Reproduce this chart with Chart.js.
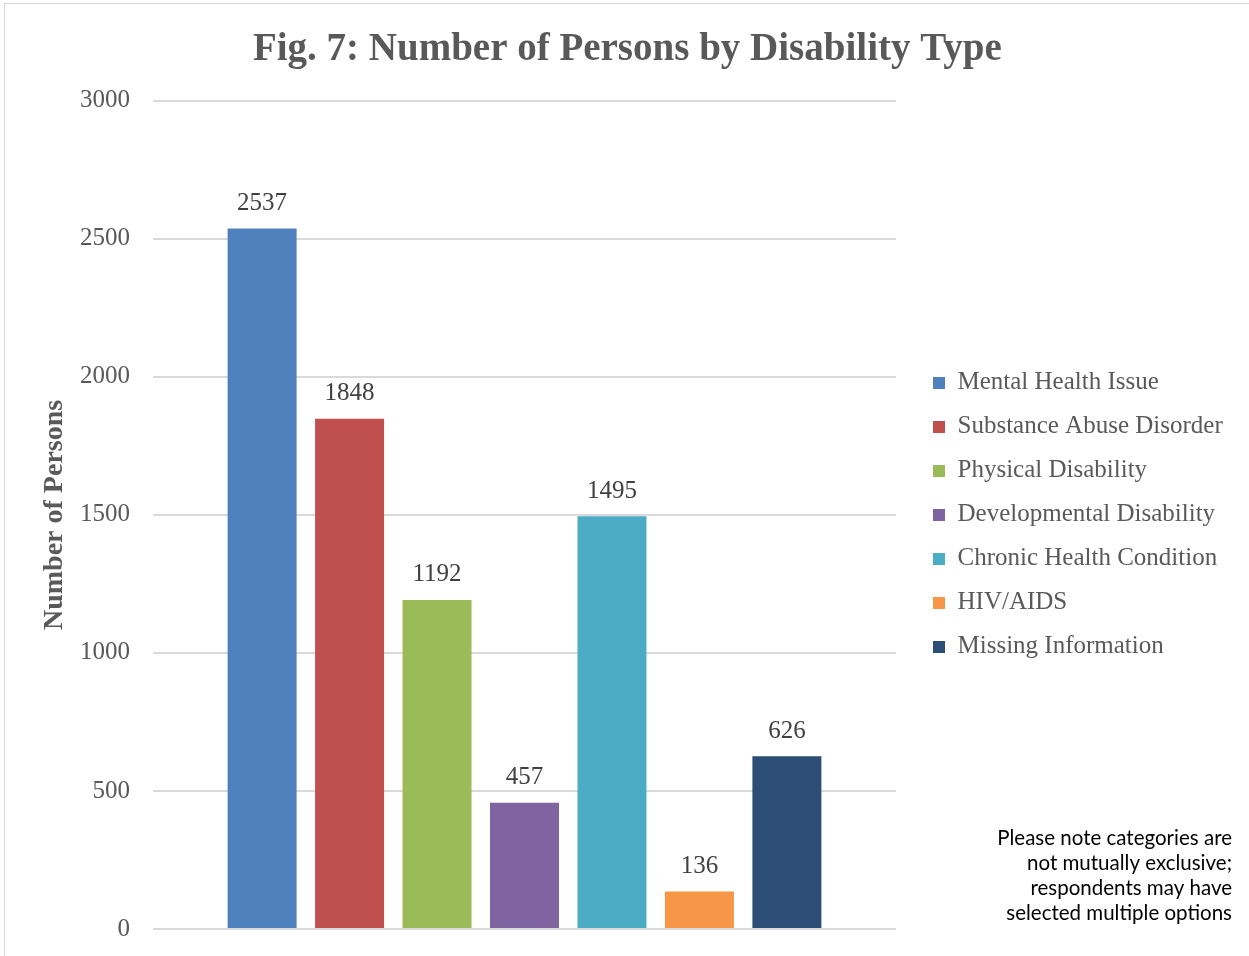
<!DOCTYPE html>
<html>
<head>
<meta charset="utf-8">
<title>Fig. 7: Number of Persons by Disability Type</title>
<script src="https://cdn.jsdelivr.net/npm/chart.js@4.4.1/dist/chart.umd.min.js"></script>
<style>
    html, body { margin: 0; padding: 0; background: #fff; overflow: hidden; }
    #frame {
        position: absolute; left: 4px; top: 3px;
        width: 1400px; height: 1100px;
        border: 1.5px solid #d9d9d9;
    }
    #wrap { position: absolute; left: 0; top: 0; width: 1249px; height: 956px; }
</style>
</head>
<body>
<div id="frame"></div>
<div id="wrap"><canvas id="disabilityChart" width="1249" height="956"></canvas></div>

<script>
// ================= DATA =================
const categories = [
    "Mental Health Issue",
    "Substance Abuse Disorder",
    "Physical Disability",
    "Developmental Disability",
    "Chronic Health Condition",
    "HIV/AIDS",
    "Missing Information"
];
const persons = [2537, 1848, 1192, 457, 1495, 136, 626];
const barColors = ["#4F81BD", "#C0504D", "#9BBB59", "#8064A2", "#4BACC6", "#F79646", "#2C4D75"];
const yTicks = [0, 500, 1000, 1500, 2000, 2500, 3000];
const noteLines = [
    "Please note categories are",
    "not mutually exclusive;",
    "respondents may have",
    "selected multiple options"
];

const SERIF = "'Liberation Serif', 'DejaVu Serif', serif";
const GREY = "#595959";
const LEGEND_SIZE = 25;
const PAD_LEFT = 22;

// legend sits right of the plot; work out how much room its widest label needs
function legendRightPadding() {
    const c = document.createElement("canvas").getContext("2d");
    c.font = LEGEND_SIZE + "px " + SERIF;
    const widest = Math.max(...categories.map(t => c.measureText(t).width));
    const legendW = 20 + 12 + LEGEND_SIZE / 2 + widest + 20;
    return Math.max(0, 1249 - 903 - legendW);
}

// ================= PLUGINS =================
const valueLabels = {
    id: "valueLabels",
    afterDatasetsDraw(chart) {
        const ctx = chart.ctx;
        ctx.save();
        ctx.font = "25px " + SERIF;
        ctx.fillStyle = "#404040";
        ctx.textAlign = "center";
        ctx.textBaseline = "middle";
        chart.data.datasets.forEach((ds, i) => {
            const bar = chart.getDatasetMeta(i).data[0];
            if (!bar) return;
            ctx.fillText(String(ds.data[0]), bar.x, bar.y - 25);
        });
        ctx.restore();
    }
};

const footNote = {
    id: "footNote",
    afterDraw(chart) {
        const ctx = chart.ctx;
        ctx.save();
        ctx.font = "20.5px Lato, 'Liberation Sans', sans-serif";
        ctx.fillStyle = "#000";
        ctx.textAlign = "right";
        ctx.textBaseline = "middle";
        noteLines.forEach((line, i) => {
            ctx.fillText(line, chart.width - 17, 838 + i * 25);
        });
        ctx.restore();
    }
};

// ================= CHART =================
window.onload = function () {
    new Chart(document.getElementById("disabilityChart"), {
        type: "bar",
        data: {
            labels: [""],
            datasets: categories.map((name, i) => ({
                label: name,
                data: [persons[i]],
                backgroundColor: barColors[i],
                borderWidth: 0,
                categoryPercentage: 0.824,
                barPercentage: 0.789
            }))
        },
        options: {
            responsive: false,
            animation: false,
            devicePixelRatio: 1,
            layout: { padding: { left: PAD_LEFT, top: 0, bottom: 0, right: legendRightPadding() } },
            plugins: {
                title: {
                    display: true,
                    text: "Fig. 7: Number of Persons by Disability Type",
                    color: GREY,
                    font: { family: SERIF, size: 39, weight: "bold" },
                    padding: { top: 27, bottom: 27 }
                },
                legend: {
                    position: "right",
                    fullSize: false,
                    maxWidth: 500,
                    labels: {
                        color: GREY,
                        font: { family: SERIF, size: LEGEND_SIZE },
                        boxWidth: 12,
                        boxHeight: 12,
                        padding: 44 - LEGEND_SIZE
                    }
                },
                tooltip: { enabled: false }
            },
            scales: {
                x: {
                    grid: { display: false },
                    border: { display: false },
                    ticks: { display: false },
                    afterFit: s => { s.height = 27; }
                },
                y: {
                    min: 0,
                    max: 3000,
                    afterBuildTicks: s => { s.ticks = yTicks.map(v => ({ value: v })); },
                    grid: { color: "#d9d9d9", lineWidth: 2, drawTicks: false },
                    border: { display: false },
                    ticks: {
                        color: GREY,
                        padding: 23,
                        font: { family: SERIF, size: 25 },
                        callback: v => String(v)
                    },
                    title: {
                        display: true,
                        text: "Number of Persons",
                        color: GREY,
                        font: { family: SERIF, size: 28, weight: "bold" },
                        padding: { top: 38 - PAD_LEFT, bottom: 0 }
                    },
                    afterFit: s => {
                        s.width = 153 - PAD_LEFT;
                        s.paddingTop = 0;
                        s.paddingBottom = 0;
                    }
                },
                gap: {
                    position: "right",
                    grid: { display: false },
                    border: { display: false },
                    ticks: { display: false },
                    afterFit: s => { s.width = 18; }
                }
            }
        },
        plugins: [valueLabels, footNote]
    });
};
</script>
</body>
</html>
